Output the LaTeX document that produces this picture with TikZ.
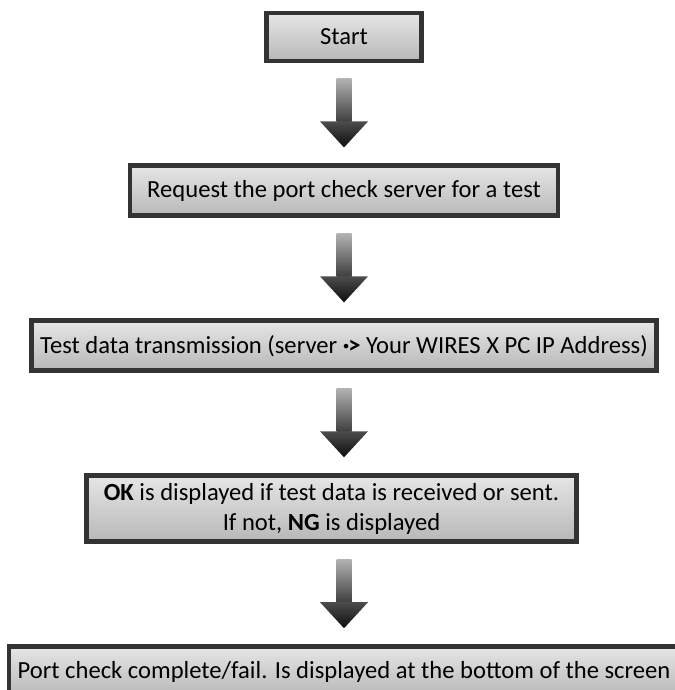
\documentclass[tikz,border=0pt]{standalone}
\usepackage{fontspec}
\setmainfont{Carlito}
\usetikzlibrary{positioning,calc}

% block arrow between two boxes, kept on the axis of the start box
\newcommand{\flowarrow}[2]{%
  \shade[top color=black!30, bottom color=black!75]
    ($(#1.south -| start.south)+(-0.15,-0.3)$) rectangle ($(#2.north -| start.south)+(0.15,0.84)$);
  \shade[top color=black!70, bottom color=black!95]
    ($(#2.north -| start.south)+(-0.48,0.84)$) -- ($(#2.north -| start.south)+(0.48,0.84)$)
    -- ($(#2.north -| start.south)+(0,0.32)$) -- cycle;
}

\begin{document}
\begin{tikzpicture}[
    node distance=2.0cm,
    stepbox/.style={rectangle, draw=black!80, line width=2.8pt, top color=black!10, middle color=white, bottom color=black!28,
      minimum height=1.0cm, inner xsep=0.1cm, inner ysep=0.1cm, align=center, font=\fontsize{14}{17}\selectfont}
]
\useasboundingbox (0,0) rectangle (13.48,-13.8);

\node[stepbox, minimum width=3.1cm, minimum height=0.96cm] (start) at (6.88,-0.74) {Start};
\node[stepbox, minimum width=8.56cm, below=of start] (req) {Request the port check server for a test};
\node[stepbox, minimum width=12.5cm, below=of req] (test) {Test data transmission (server \textbf{·\kern-0.05em>} Your WIRES X PC IP Address)};
\node[stepbox, minimum width=9.8cm, minimum height=1.32cm, below=of test, xshift=-0.25cm] (ok)
  {\textbf{OK} is displayed if test data is received or sent.\\ If not, \textbf{NG} is displayed};
\node[stepbox, minimum width=13.4cm, below=of ok, xshift=0.25cm] (done)
  {Port check complete/fail. Is displayed at the bottom of the screen};

\flowarrow{start}{req}
\flowarrow{req}{test}
\flowarrow{test}{ok}
\flowarrow{ok}{done}
\end{tikzpicture}
\end{document}
